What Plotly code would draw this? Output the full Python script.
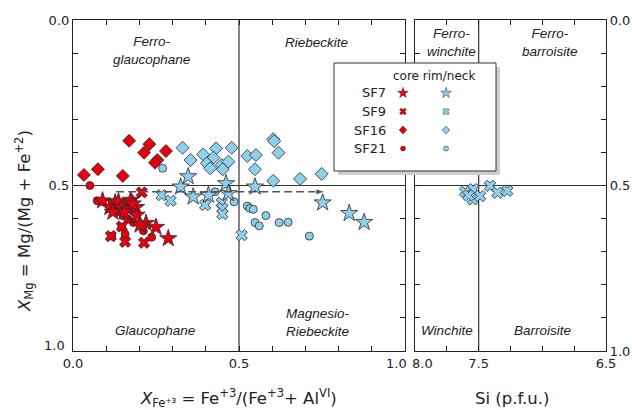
import plotly.graph_objects as go

# ---------------- data ----------------
# SF7 core (red stars)
sf7_core_x = [0.089, 0.111, 0.127, 0.137, 0.147, 0.167, 0.174, 0.190, 0.192, 0.220, 0.250, 0.287, 0.202, 0.180, 0.155, 0.120]
sf7_core_y = [0.546, 0.566, 0.552, 0.549, 0.566, 0.572, 0.544, 0.566, 0.589, 0.614, 0.626, 0.660, 0.619, 0.555, 0.580, 0.580]
# SF9 core (red X)
sf9_core_x = [0.207, 0.157, 0.214, 0.114, 0.147]
sf9_core_y = [0.521, 0.670, 0.673, 0.653, 0.624]
# SF16 core (red diamonds)
sf16_core_x = [0.169, 0.230, 0.214, 0.280, 0.254, 0.247, 0.075, 0.033, 0.150]
sf16_core_y = [0.365, 0.375, 0.401, 0.396, 0.423, 0.431, 0.451, 0.468, 0.471]
# SF21 core (red circles)
sf21_core_x = [0.051, 0.073, 0.124, 0.152, 0.167, 0.147, 0.157, 0.212, 0.237, 0.117, 0.182, 0.130, 0.160, 0.140]
sf21_core_y = [0.500, 0.546, 0.552, 0.592, 0.602, 0.626, 0.647, 0.637, 0.656, 0.653, 0.612, 0.570, 0.560, 0.580]

# SF7 rim (blue stars)
sf7_rim_x = [0.347, 0.324, 0.461, 0.468, 0.362, 0.408, 0.548, 0.752, 0.832, 0.877]
sf7_rim_y = [0.473, 0.504, 0.494, 0.524, 0.534, 0.529, 0.504, 0.552, 0.584, 0.611]
# SF9 rim (blue X)
sf9_rim_x = [0.267, 0.294, 0.398, 0.448, 0.450, 0.450, 0.508]
sf9_rim_y = [0.529, 0.546, 0.559, 0.552, 0.569, 0.586, 0.650]
# SF16 rim (blue diamonds)
sf16_rim_x = [0.330, 0.354, 0.392, 0.431, 0.478, 0.423, 0.403, 0.413, 0.448, 0.468, 0.451, 0.525, 0.551, 0.548, 0.603, 0.606, 0.619, 0.603, 0.684, 0.749]
sf16_rim_y = [0.386, 0.423, 0.406, 0.388, 0.386, 0.416, 0.433, 0.448, 0.438, 0.428, 0.451, 0.411, 0.408, 0.451, 0.360, 0.366, 0.401, 0.486, 0.480, 0.465]
# SF21 rim (blue circles)
sf21_rim_x = [0.270, 0.428, 0.485, 0.525, 0.533, 0.543, 0.581, 0.548, 0.561, 0.621, 0.648, 0.712]
sf21_rim_y = [0.448, 0.519, 0.549, 0.562, 0.569, 0.572, 0.591, 0.612, 0.622, 0.612, 0.611, 0.653]

# Right panel: SF9 rim vs Si
sf9_rim_si = [7.607, 7.542, 7.547, 7.489, 7.411, 7.353, 7.275, 7.580]
sf9_rim_si_y = [0.519, 0.511, 0.542, 0.532, 0.501, 0.522, 0.516, 0.530]

# trend arrow
trend_x = [0.13, 0.76]
trend_y = [0.519, 0.519]

# tick labels
xfe_ticks = [round(i * 0.1, 1) for i in range(11)]
xfe_text = ["0.0", "", "", "", "", "0.5", "", "", "", "", ""]   # "1.0" placed separately
xmg_ticks = xfe_ticks
xmg_text_left = ["0.0", "", "", "", "", "0.5", "", "", "", "", ""]  # "1.0" placed separately
xmg_text_right = ["0.0", "", "", "", "", "0.5", "", "", "", "", "1.0"]
si_ticks = [8.0, 7.75, 7.5, 7.25, 7.0, 6.75, 6.5]
si_text = ["", "", "7.5", "", "", "", "6.5"]   # "8.0" placed separately

legend_rows = ["SF7", "SF9", "SF16", "SF21"]
legend_symbols = ["star", "x", "diamond", "circle"]

RED = "#E5000F"
BLUE = "#8DCFEC"
EDGE = "#2a2a2a"

sym_size = {"star": 13, "x": 10, "diamond": 10, "circle": 8}

fig = go.Figure()

def add(xs, ys, sym, color, xa="x", ya="y"):
    fig.add_trace(go.Scatter(
        x=xs, y=ys, mode="markers", xaxis=xa, yaxis=ya, showlegend=False,
        hoverinfo="skip",
        marker=dict(symbol=sym, size=sym_size[sym], color=color,
                    line=dict(color=EDGE, width=0.8))))

add(sf16_core_x, sf16_core_y, "diamond", RED)
add(sf16_rim_x, sf16_rim_y, "diamond", BLUE)
add(sf21_rim_x, sf21_rim_y, "circle", BLUE)
add(sf9_rim_x, sf9_rim_y, "x", BLUE)
add(sf7_rim_x, sf7_rim_y, "star", BLUE)
add(sf21_core_x, sf21_core_y, "circle", RED)
add(sf9_core_x, sf9_core_y, "x", RED)
add(sf7_core_x, sf7_core_y, "star", RED)
add(sf9_rim_si, sf9_rim_si_y, "x", BLUE, "x2", "y2")

fig.add_trace(go.Scatter(
    x=trend_x, y=trend_y, mode="lines+markers", showlegend=False, hoverinfo="skip",
    line=dict(color="#555555", width=1.6, dash="8px,4px"),
    marker=dict(symbol=["circle", "arrow"], size=[1, 10], color="#555555",
                angleref="previous", opacity=[0, 1])))

# ---------------- legend (drawn on an overlay pixel axis) ----------------
W, H = 632, 410
bx0, bx1, by0, by1 = 334, 496, 63, 171
sh = 4
fig.add_trace(go.Scatter(
    x=[bx0 + sh, bx1 + sh, bx1 + sh, bx0 + sh, bx0 + sh],
    y=[by0 + sh, by0 + sh, by1 + sh, by1 + sh, by0 + sh],
    xaxis="x3", yaxis="y3", mode="lines", fill="toself", fillcolor="#cfcfcf",
    line=dict(width=0), showlegend=False, hoverinfo="skip"))
fig.add_trace(go.Scatter(
    x=[bx0, bx1, bx1, bx0, bx0], y=[by0, by0, by1, by1, by0],
    xaxis="x3", yaxis="y3", mode="lines", fill="toself", fillcolor="white",
    line=dict(color="#333333", width=1), showlegend=False, hoverinfo="skip"))

row_y = [93, 111.5, 130, 148.5]
core_x, rim_x = 403, 446
leg_size = {"star": 8, "x": 6, "diamond": 6, "circle": 5}
for name, sym, ry in zip(legend_rows, legend_symbols, row_y):
    fig.add_trace(go.Scatter(
        x=[core_x, rim_x], y=[ry, ry], xaxis="x3", yaxis="y3", mode="markers",
        showlegend=False, hoverinfo="skip",
        marker=dict(symbol=sym, size=leg_size[sym], color=[RED, BLUE],
                    line=dict(color=EDGE, width=0.5))))

def pann(px, py, text, font, xanchor="center", **kw):
    return dict(xref="paper", yref="paper", x=px / W, y=1 - py / H, text=text,
                showarrow=False, xanchor=xanchor, yanchor="middle", font=font, **kw)

annotations = []
annotations.append(pann(434, 76, "core rim/neck", dict(family="DejaVu Sans", size=12, color="#222")))
for name, ry in zip(legend_rows, row_y):
    annotations.append(pann(388, ry, name, dict(family="DejaVu Sans", size=13, color="#222"),
                            xanchor="right"))

# region labels
reg_font = dict(family="Liberation Sans", size=13.5, color="#222")
for txt, xx, yy, ax, ay in [
    ("<i>Ferro-<br>glaucophane</i>", 0.237, 0.092, "x", "y"),
    ("<i>Riebeckite</i>", 0.734, 0.069, "x", "y"),
    ("<i>Glaucophane</i>", 0.247, 0.937, "x", "y"),
    ("<i>Magnesio-<br>Riebeckite</i>", 0.738, 0.915, "x", "y"),
    ("<i>Ferro-<br>winchite</i>", 7.712, 0.068, "x2", "y2"),
    ("<i>Ferro-<br>barroisite</i>", 6.94, 0.068, "x2", "y2"),
    ("<i>Winchite</i>", 7.75, 0.937, "x2", "y2"),
    ("<i>Barroisite</i>", 7.0, 0.937, "x2", "y2"),
]:
    annotations.append(dict(xref=ax, yref=ay, x=xx, y=yy, text=txt, showarrow=False,
                            xanchor="center", yanchor="middle", font=reg_font))

tick_font = dict(family="DejaVu Sans", size=13, color="#222")
# end tick labels nudged inward as in the reference
annotations.append(pann(396, 363, "1.0", tick_font))
annotations.append(pann(422, 363, "8.0", tick_font))
annotations.append(pann(67, 345, "1.0", tick_font, xanchor="right"))

title_font = dict(family="DejaVu Sans", size=16.5, color="#222")
annotations.append(pann(238, 398, "<i>X</i><sub>Fe⁺³</sub> = Fe<sup>+3</sup>/(Fe<sup>+3</sup>+ Al<sup>VI</sup>)", title_font))
annotations.append(pann(512, 398, "Si (p.f.u.)", title_font))
annotations.append(pann(24, 221, "<i>X</i><sub>Mg</sub> = Mg/(Mg + Fe<sup>+2</sup>)", title_font,
                        textangle=-90))

# reference lines
line_style = dict(color="#333333", width=1.2)
shapes = [
    dict(type="line", xref="x", yref="y", x0=0.5, x1=0.5, y0=0, y1=1, line=line_style, layer="below"),
    dict(type="line", xref="x", yref="y", x0=0, x1=1, y0=0.5, y1=0.5, line=line_style, layer="below"),
    dict(type="line", xref="x2", yref="y2", x0=7.5, x1=7.5, y0=0, y1=1, line=line_style, layer="below"),
    dict(type="line", xref="x2", yref="y2", x0=8.0, x1=6.5, y0=0.5, y1=0.5, line=line_style, layer="below"),
]

ax_common = dict(showgrid=False, zeroline=False, showline=True, linecolor="#222",
                 linewidth=1.2, ticks="inside", ticklen=5, tickcolor="#222",
                 tickwidth=1, mirror="allticks", tickfont=tick_font, automargin=False)

ydom = [1 - 351 / H, 1 - 20 / H]
fig.update_layout(
    width=W, height=H, margin=dict(l=0, r=0, t=0, b=0, pad=0, autoexpand=False),
    paper_bgcolor="white", plot_bgcolor="rgba(0,0,0,0)",
    xaxis=dict(domain=[73 / W, 405 / W], range=[0, 1], tickvals=xfe_ticks,
               ticktext=xfe_text, anchor="y", **ax_common),
    yaxis=dict(domain=ydom, range=[1, 0], tickvals=xmg_ticks, ticktext=xmg_text_left,
               anchor="x", **ax_common),
    xaxis2=dict(domain=[415 / W, 606 / W], range=[8.0, 6.5], tickvals=si_ticks,
                ticktext=si_text, anchor="y2", **ax_common),
    yaxis2=dict(domain=ydom, range=[1, 0], tickvals=xmg_ticks, ticktext=xmg_text_right,
                anchor="x2", side="right", **ax_common),
    xaxis3=dict(domain=[0, 1], range=[0, W], visible=False, anchor="y3", fixedrange=True, automargin=False),
    yaxis3=dict(domain=[0, 1], range=[H, 0], visible=False, anchor="x3", fixedrange=True, automargin=False),
    annotations=annotations, shapes=shapes,
)

fig.write_html("out.html")
